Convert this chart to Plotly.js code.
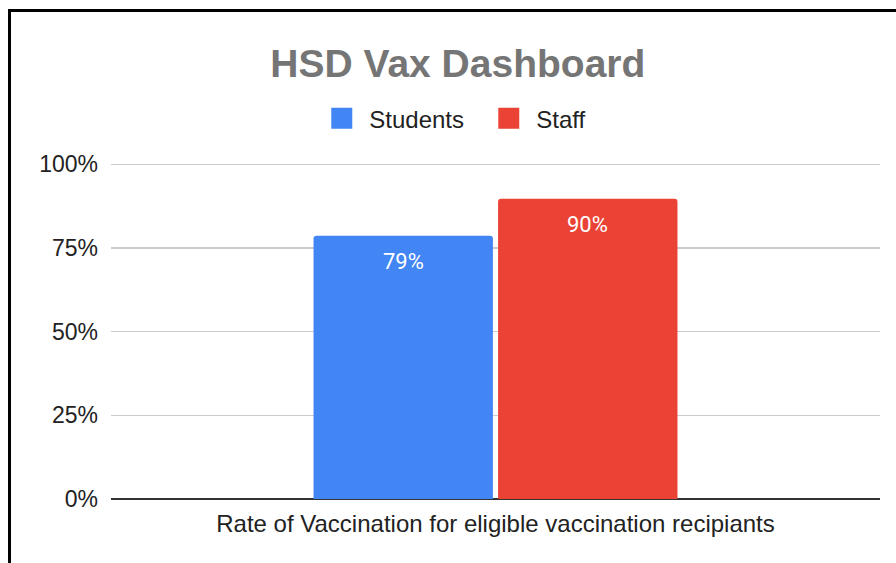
<!DOCTYPE html>
<html>
<head>
<meta charset="utf-8">
<script src="https://cdn.plot.ly/plotly-3.0.1.min.js"></script>
<style>
html,body{margin:0;padding:0;background:#fff;overflow:hidden;}
#chart{width:896px;height:563px;position:absolute;left:0;top:0;}
#frame{position:absolute;left:8px;top:9px;width:1000px;height:1000px;border:3px solid #000;pointer-events:none;box-sizing:border-box;}
</style>
</head>
<body>
<div id="chart"></div>
<div id="frame"></div>
<script>
const categories = ["Rate of Vaccination for eligible vaccination recipiants"];
const seriesNames = ["Students", "Staff"];
const studentsValues = [0.787];
const staffValues = [0.897];
const tickValues = [0, 0.25, 0.5, 0.75, 1];
const tickLabels = ["0%", "25%", "50%", "75%", "100%"];

const colors = ["#4285f4", "#ea4335"];
const valueSets = [studentsValues, staffValues];
const BARGAP = 0.52;
const GROUPGAP = 0.028;

const barTraces = seriesNames.map((name, i) => ({
  type: "bar",
  name: name,
  legendgroup: name,
  showlegend: false,
  x: categories,
  y: valueSets[i],
  marker: {color: colors[i], cornerradius: 3, line: {width: 0}},
  hoverinfo: "none"
}));

// legend entries with larger square swatches (no plotted points)
const legendTraces = seriesNames.map((name, i) => ({
  type: "scatter",
  mode: "markers",
  name: name,
  legendgroup: name,
  showlegend: true,
  x: [null],
  y: [null],
  marker: {symbol: "square", size: 16, color: colors[i], line: {width: 5, color: colors[i]}},
  hoverinfo: "none"
}));

// value labels placed inside the top of each bar
const slot = (1 - BARGAP) / seriesNames.length;
const annotations = valueSets.map((vals, i) => ({
  xref: "x", yref: "y",
  x: (i - (seriesNames.length - 1) / 2) * slot,
  y: vals[0],
  yshift: -26,
  text: Math.round(vals[0] * 100) + "%",
  showarrow: false,
  xanchor: "center", yanchor: "middle",
  font: {family: "Roboto, Arial, sans-serif", size: 22, color: "#ffffff"}
}));

const layout = {
  width: 896,
  height: 563,
  margin: {l: 111, r: 16, t: 161, b: 64, pad: 0},
  paper_bgcolor: "#ffffff",
  plot_bgcolor: "#ffffff",
  font: {family: "Arial, 'Liberation Sans', sans-serif", color: "#222222", size: 24},
  title: {
    text: "<b>HSD Vax Dashboard</b>",
    font: {family: "Arial, 'Liberation Sans', sans-serif", size: 39, color: "#757575"},
    x: 0.511, xanchor: "center",
    y: 0.888, yanchor: "middle"
  },
  showlegend: true,
  legend: {
    orientation: "h",
    x: 0.4815, xanchor: "center",
    y: 1.125, yanchor: "middle",
    font: {size: 24, color: "#222222"},
    itemwidth: 45,
    entrywidth: 107,
    entrywidthmode: "pixels",
    traceorder: "normal"
  },
  annotations: annotations,
  barmode: "group",
  bargap: BARGAP,
  bargroupgap: GROUPGAP,
  xaxis: {
    type: "category",
    showgrid: false,
    showline: false,
    ticks: "",
    showticklabels: false,
    title: {text: categories[0], font: {size: 24, color: "#222222"}, standoff: 16}
  },
  yaxis: {
    range: [0, 1.01],
    tickvals: tickValues,
    ticktext: tickLabels,
    showgrid: true,
    gridcolor: "#cccccc",
    gridwidth: 1.5,
    zeroline: true,
    zerolinecolor: "#333333",
    zerolinewidth: 1.5,
    showline: false,
    ticks: "",
    ticklabelstandoff: 12,
    tickfont: {size: 23, color: "#222222"}
  }
};

Plotly.newPlot("chart", barTraces.concat(legendTraces), layout, {displayModeBar: false, staticPlot: true});
</script>
</body>
</html>
